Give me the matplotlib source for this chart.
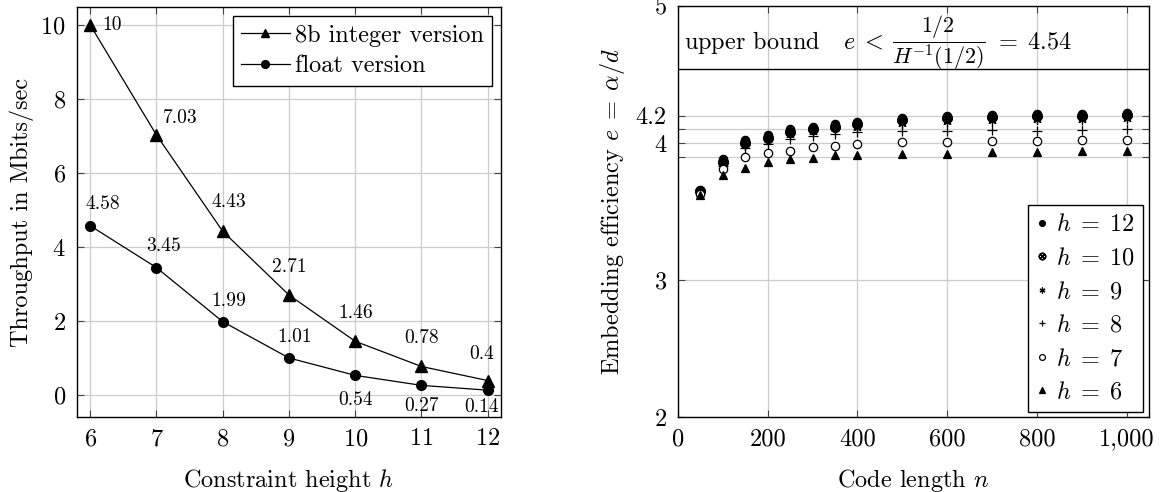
import matplotlib
matplotlib.use("Agg")
import matplotlib.pyplot as plt
from matplotlib.ticker import FuncFormatter
from matplotlib.offsetbox import TextArea, HPacker, AnchoredOffsetbox

# left panel: throughput vs constraint height
heights = [6, 7, 8, 9, 10, 11, 12]
int_version = [10, 7.03, 4.43, 2.71, 1.46, 0.78, 0.4]
float_version = [4.58, 3.45, 1.99, 1.01, 0.54, 0.27, 0.14]

# right panel: embedding efficiency vs code length
code_len = [50, 100, 150, 200, 250, 300, 350, 400, 500, 600, 700, 800, 900, 1000]
eff_h12 = [3.66, 3.88, 4.02, 4.06, 4.10, 4.12, 4.14, 4.155, 4.18, 4.195, 4.205, 4.21, 4.21, 4.22]
eff_h10 = [3.65, 3.86, 4.00, 4.04, 4.08, 4.10, 4.12, 4.135, 4.165, 4.18, 4.19, 4.195, 4.20, 4.205]
eff_h9 = [3.65, 3.85, 3.98, 4.02, 4.06, 4.08, 4.10, 4.11, 4.14, 4.15, 4.16, 4.17, 4.17, 4.175]
eff_h8 = [3.64, 3.83, 3.96, 3.99, 4.03, 4.05, 4.065, 4.08, 4.085, 4.09, 4.095, 4.09, 4.095, 4.10]
eff_h7 = [3.63, 3.81, 3.895, 3.93, 3.94, 3.97, 3.98, 3.99, 4.005, 4.005, 4.015, 4.017, 4.02, 4.023]
eff_h6 = [3.62, 3.77, 3.82, 3.86, 3.88, 3.89, 3.915, 3.91, 3.92, 3.92, 3.937, 3.937, 3.944, 3.94]
upper_bound = 4.54

plt.rcParams["font.family"] = "serif"
plt.rcParams["font.serif"] = ["cmr10"]
plt.rcParams["mathtext.fontset"] = "cm"
plt.rcParams["axes.formatter.use_mathtext"] = True
plt.rcParams["axes.unicode_minus"] = False

FS = 17.5

fig = plt.figure(figsize=(11.61, 4.92), dpi=100)
ax1 = fig.add_axes([0.0663, 0.152, 0.3652, 0.834])
ax2 = fig.add_axes([0.584, 0.152, 0.4057, 0.836])


def style(ax):
    ax.grid(True, color="#cccccc", linewidth=0.9)
    ax.set_axisbelow(True)
    ax.tick_params(direction="in", top=True, right=True, length=5,
                   width=0.8, color="#444444", labelsize=FS, pad=8)
    for sp in ax.spines.values():
        sp.set_linewidth(1.0)


# ---- left panel
style(ax1)
ax1.plot(heights, int_version, color="black", lw=0.9, marker="^", ms=8,
         label="8b integer version")
ax1.plot(heights, float_version, color="black", lw=0.9, marker="o", ms=7,
         label="float version")

int_offsets = [(22, 0), (24, 17), (6, 29), (0, 28), (0, 28), (0, 28), (-6, 27)]
float_offsets = [(13, 22), (7, 22), (6, 21), (6, 21), (0, -25), (0, -21), (-6, -17)]
for x, y, off in zip(heights, int_version, int_offsets):
    ax1.annotate(f"{y:g}", (x, y), xytext=off, textcoords="offset pixels",
                 ha="center", va="center", fontsize=14)
for x, y, off in zip(heights, float_version, float_offsets):
    ax1.annotate(f"{y:g}", (x, y), xytext=off, textcoords="offset pixels",
                 ha="center", va="center", fontsize=14)

ax1.set_xlim(5.8, 12.2)
ax1.set_ylim(-0.59, 10.49)
ax1.set_xticks(heights)
ax1.set_yticks([0, 2, 4, 6, 8, 10])
ax1.set_xlabel(r"Constraint height $h$", fontsize=FS, labelpad=12)
ax1.set_ylabel("Throughput in Mbits/sec", fontsize=FS, labelpad=5)
leg1 = ax1.legend(loc="upper right", fontsize=FS, fancybox=False,
                  edgecolor="black", framealpha=1, handlelength=2.0,
                  handletextpad=0.2, borderpad=0.35, labelspacing=0.35,
                  markerscale=0.8, borderaxespad=0,
                  bbox_to_anchor=(0.979, 0.978))
leg1.get_frame().set_linewidth(1.0)

# ---- right panel
style(ax2)
series = [
    (eff_h12, "o", "black", "black", 6, r"$h\;=\;12$"),
    (eff_h10, r"$\otimes$", "black", "black", 7, r"$h\;=\;10$"),
    (eff_h9, (6, 2, 0), "black", "black", 6, r"$h\;=\;9$"),
    (eff_h8, "+", "black", "black", 7, r"$h\;=\;8$"),
    (eff_h7, "o", "white", "black", 6, r"$h\;=\;7$"),
    (eff_h6, "^", "black", "black", 6, r"$h\;=\;6$"),
]
for vals, mk, fc, ec, ms, lab in series:
    ax2.plot(code_len, vals, linestyle="none", marker=mk, mfc=fc, mec=ec,
             ms=ms, mew=0.9, label=lab)

ax2.axhline(upper_bound, color="black", lw=1.0)
# upper bound label: main text plus a slightly smaller fraction
parts = HPacker(children=[
    TextArea(r"upper bound   $e\;<$", textprops=dict(fontsize=FS)),
    TextArea(r"$\dfrac{1/2}{H^{-1}(1/2)}$", textprops=dict(fontsize=15.8)),
    TextArea(r"$=\;4.54$", textprops=dict(fontsize=FS)),
], align="center", pad=0, sep=6)
ab = AnchoredOffsetbox(loc="center left", child=parts, frameon=False,
                       bbox_to_anchor=(0.012, 0.91),
                       bbox_transform=ax2.transAxes, pad=0, borderpad=0)
ax2.add_artist(ab)

ax2.set_xlim(0, 1050)
ax2.set_ylim(2, 5)
ax2.set_xticks([0, 200, 400, 600, 800, 1000])
ax2.xaxis.set_major_formatter(FuncFormatter(lambda v, p: f"{int(v):,}"))
ax2.set_yticks([2, 3, 3.9, 4, 4.1, 4.2, 5])
ax2.set_yticklabels(["2", "3", "", "4", "", "4.2", "5"])
ax2.set_xlabel(r"Code length $n$", fontsize=FS, labelpad=12)
ax2.set_ylabel(r"Embedding efficiency $e\;=\;\alpha/d$", fontsize=FS,
               labelpad=6)
leg2 = ax2.legend(loc="lower right", fontsize=FS, fancybox=False,
                  edgecolor="black", framealpha=1, handlelength=0.5,
                  handletextpad=0.3, borderpad=0.35, labelspacing=0.47,
                  markerscale=0.7, borderaxespad=0,
                  bbox_to_anchor=(0.987, 0.012))
leg2.get_frame().set_linewidth(1.0)

fig.savefig("out.png", dpi=100)
